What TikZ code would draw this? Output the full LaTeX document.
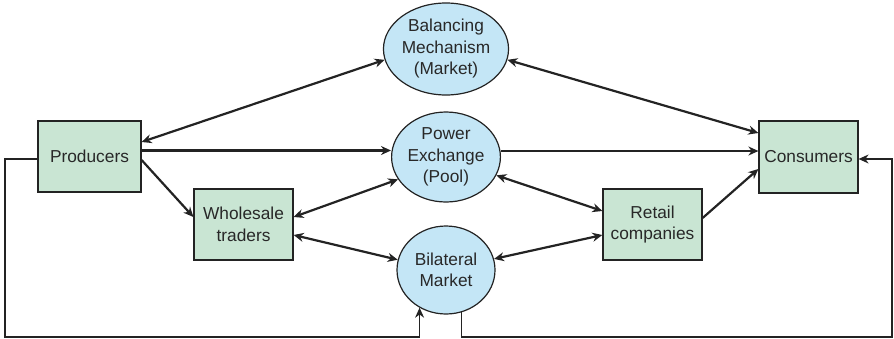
\documentclass[tikz,border=0pt]{standalone}
\usepackage{fontspec}
\setmainfont{Liberation Sans}
\usetikzlibrary{arrows.meta,shapes.geometric}
\definecolor{boxgreen}{RGB}{201,229,211}
\definecolor{poolblue}{RGB}{196,230,246}
\definecolor{edge}{RGB}{35,35,35}
\definecolor{ink}{RGB}{40,40,40}
\tikzset{
  party/.style={draw=edge, line width=1.2pt, fill=boxgreen, rectangle,
    inner sep=0pt, align=center, text=ink, font=\fontsize{17.3}{21.5}\selectfont},
  market/.style={draw=edge, line width=1.2pt, fill=poolblue, ellipse,
    inner sep=0pt, align=center, text=ink, font=\fontsize{17.3}{21.5}\selectfont},
  tip/.style={Stealth[length=10pt,width=9pt]},
  flow/.style={draw=edge, line width=2.2pt, -{Stealth[length=10pt,width=9pt]}},
  both/.style={draw=edge, line width=2.2pt, {Stealth[length=10pt,width=9pt]}-{Stealth[length=10pt,width=9pt]}},
  loopline/.style={draw=edge, line width=1.3pt, -{Stealth[length=10pt,width=9pt]}}
}
\begin{document}
\begin{tikzpicture}[x=1pt,y=-1pt]
\useasboundingbox (0,0) rectangle (894,338);

% participants
\node[party, minimum width=103pt, minimum height=71pt] (prod)   at (89.5,156.5) {Producers};
\node[party, minimum width=99pt,  minimum height=71pt] (whole)  at (243.5,224.5) {Wholesale\\traders};
\node[party, minimum width=99pt,  minimum height=71pt] (retail) at (652.5,224.5) {Retail\\companies};
\node[party, minimum width=99pt,  minimum height=72pt] (cons)   at (808.5,157) {Consumers};

% markets
\node[market, minimum width=100pt, minimum height=92pt] (bm)  at (446,49)  {Balancing\\Mechanism\\(Market)};
\node[market, minimum width=98pt,  minimum height=90pt] (pe)  at (446,157) {Power\\Exchange\\(Pool)};
\node[market, minimum width=98pt,  minimum height=88pt] (bil) at (446,270) {Bilateral\\Market};

% balancing mechanism links
\draw[both] ([yshift=14.5pt]prod.east) -- (bm.190);
\draw[both] (bm.350) -- ([yshift=24pt]cons.west);

% pool trading
\coordinate (p1) at ([yshift=6pt]prod.east);
\draw[flow] (p1) -- (p1 -| pe.west);
\coordinate (p2) at ([yshift=6pt]pe.east);
\draw[flow] (p2) -- (p2 -| cons.west);

% producers to wholesale traders
\draw[flow] ([yshift=-3.5pt]prod.east) -- ([yshift=7.5pt]whole.west);

% wholesale traders to markets
\draw[both] ([yshift=7.5pt]whole.east) -- (pe.205);
\draw[both] ([yshift=-10.5pt]whole.east) -- (bil.168);

% markets to retail companies
\draw[both] (pe.340) -- ([yshift=13.5pt]retail.west);
\draw[both] (bil.13) -- ([yshift=-10.5pt]retail.west);

% retail to consumers
\draw[flow] ([yshift=6.5pt]retail.east) -- ([yshift=-12pt]cons.west);

% direct bilateral contracts
\coordinate (lc) at (5,337);
\coordinate (rc) at (892,337);
\draw[loopline] ([yshift=-2.5pt]prod.west) -| (lc) -| (bil.235);
\draw[loopline] (bil.290) |- (rc) |- ([yshift=-2pt]cons.east);
\end{tikzpicture}
\end{document}
